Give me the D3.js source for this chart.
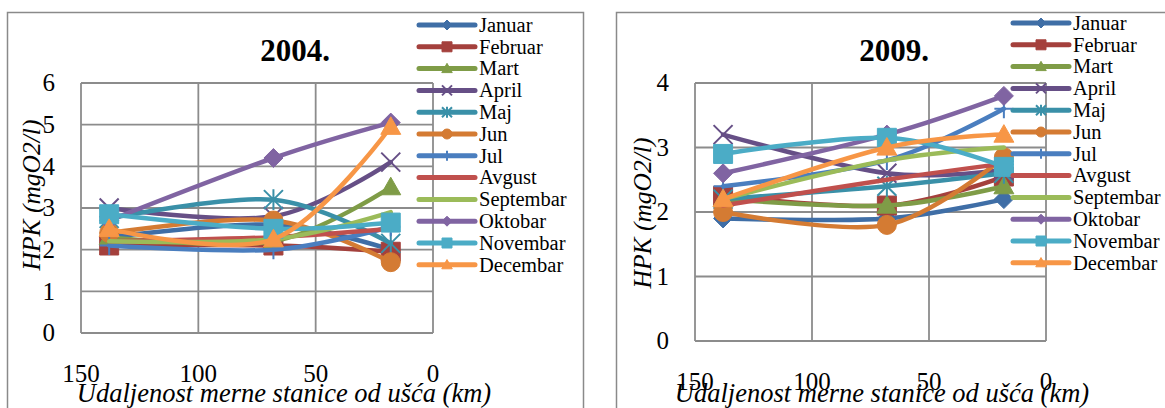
<!DOCTYPE html>
<html>
<head>
<meta charset="utf-8">
<script src="https://cdn.jsdelivr.net/npm/d3@7"></script>
<style>
  body { margin: 0; background: #fff; }
  svg text { font-family: "Liberation Serif", "DejaVu Serif", "Times New Roman", Times, serif; }
</style>
</head>
<body>
<svg id="chart" width="1165" height="408"></svg>
<script>
// mjeseci (serije)
const months = ["Januar", "Februar", "Mart", "April", "Maj", "Jun", "Jul", "Avgust", "Septembar", "Oktobar", "Novembar", "Decembar"];
// udaljenost merne stanice od ušća (km)
const distances = [138, 68, 18];

// HPK (mgO2/l) po mjesecima, 2004.
const hpk2004 = [
    [2.3, 2.6, 2.0],   // Januar
    [2.1, 2.1, 1.95],  // Februar
    [2.3, 2.2, 3.5],   // Mart
    [3.0, 2.8, 4.1],   // April
    [2.75, 3.2, 2.15], // Maj
    [2.4, 2.7, 1.7],   // Jun
    [2.1, 2.0, 2.55],  // Jul
    [2.2, 2.3, 2.5],   // Avgust
    [2.2, 2.25, 2.9],  // Septembar
    [2.7, 4.2, 5.05],  // Oktobar
    [2.85, 2.5, 2.65], // Novembar
    [2.5, 2.25, 4.95]  // Decembar
];

// HPK (mgO2/l) po mjesecima, 2009.
const hpk2009 = [
    [1.9, 1.9, 2.2],   // Januar
    [2.25, 2.1, 2.55], // Februar
    [2.2, 2.1, 2.4],   // Mart
    [3.2, 2.6, 2.65],  // April
    [2.2, 2.4, 2.6],   // Maj
    [2.0, 1.8, 2.85],  // Jun
    [2.4, 2.8, 3.6],   // Jul
    [2.1, 2.5, 2.75],  // Avgust
    [2.2, 2.8, 3.0],   // Septembar
    [2.6, 3.2, 3.8],   // Oktobar
    [2.9, 3.15, 2.7],  // Novembar
    [2.2, 3.0, 3.2]    // Decembar
];

const xTicks = [150, 100, 50, 0];
const yTicks2004 = [0, 1, 2, 3, 4, 5, 6];
const yTicks2009 = [0, 1, 2, 3, 4];

const colors = ["#3f6ea6", "#a4403c", "#7f9c47", "#664f86", "#3a90a8", "#d47b33",
                "#4a7ebf", "#c0504d", "#9bbb59", "#8064a2", "#4bacc6", "#f79646"];
const markers = ["diamond", "square", "triangle", "x", "star", "circle",
                 "plus", "none", "none", "diamond", "square", "triangle"];

const FONT = "'Liberation Serif', 'DejaVu Serif', 'Times New Roman', serif";
const svg = d3.select("#chart");

function markerPath(type, s) {
    if (type === "diamond") return `M0,${-s}L${s},0L0,${s}L${-s},0Z`;
    if (type === "square") return `M${-s},${-s}H${s}V${s}H${-s}Z`;
    if (type === "triangle") return `M0,${-s * 1.05}L${s * 1.05},${s * 0.8}L${-s * 1.05},${s * 0.8}Z`;
    if (type === "circle") return d3.symbol(d3.symbolCircle, Math.PI * s * s)();
    if (type === "x") return `M${-s},${-s}L${s},${s}M${s},${-s}L${-s},${s}`;
    if (type === "star") return `M${-s},${-s}L${s},${s}M${s},${-s}L${-s},${s}M0,${-s * 1.1}L0,${s * 1.1}`;
    if (type === "plus") return `M0,${-s}L0,${s}M${-s},0L${s},0`;
    return null;
}
const filled = t => ["diamond", "square", "triangle", "circle"].includes(t);

function drawMarker(g, type, color, x, y, s) {
    const p = markerPath(type, s);
    if (!p) return;
    g.append("path")
        .attr("transform", `translate(${x},${y})`)
        .attr("d", p)
        .attr("fill", filled(type) ? color : "none")
        .attr("stroke", color)
        .attr("stroke-width", filled(type) ? 1 : 2);
}

function drawPanel(cfg) {
    const g = svg.append("g").attr("font-family", FONT);

    // okvir
    g.append("rect")
        .attr("x", cfg.frame[0]).attr("y", 12.5)
        .attr("width", cfg.frame[1]).attr("height", 430)
        .attr("fill", "none").attr("stroke", "#8a8a8a").attr("stroke-width", 1.5);

    const x = d3.scaleLinear().domain([150, 0]).range([cfg.left, cfg.right]);
    const y = d3.scaleLinear().domain([0, d3.max(cfg.yTicks)]).range([cfg.bottom, 83]);

    // mreža
    g.selectAll(".vg").data(xTicks).enter().append("line")
        .attr("x1", d => x(d)).attr("x2", d => x(d))
        .attr("y1", y.range()[0]).attr("y2", y.range()[1])
        .attr("stroke", "#8c8c8c").attr("stroke-width", 1.8);
    g.selectAll(".hg").data(cfg.yTicks).enter().append("line")
        .attr("x1", cfg.left).attr("x2", cfg.right)
        .attr("y1", d => y(d)).attr("y2", d => y(d))
        .attr("stroke", "#8c8c8c").attr("stroke-width", 1.8);

    // oznake osa
    g.selectAll(".yl").data(cfg.yTicks).enter().append("text")
        .attr("x", cfg.left - 26).attr("y", d => y(d)).attr("dy", "0.33em")
        .attr("text-anchor", "end").style("font-size", "25px")
        .text(d => d);
    g.selectAll(".xl").data(xTicks).enter().append("text")
        .attr("x", d => x(d)).attr("y", cfg.bottom + 49)
        .attr("text-anchor", "middle").style("font-size", "25px")
        .text(d => d);

    // linije
    const line = d3.line()
        .x((d, i) => x(distances[i]))
        .y(d => y(d))
        .curve(d3.curveCardinal.tension(0));

    cfg.data.forEach((vals, k) => {
        g.append("path")
            .datum(vals)
            .attr("d", line)
            .attr("fill", "none")
            .attr("stroke", colors[k])
            .attr("stroke-width", 4.5)
            .attr("stroke-linecap", "round");
        vals.forEach((v, i) => drawMarker(g, markers[k], colors[k], x(distances[i]), y(v), 9.5));
    });

    // naslov
    g.append("text")
        .attr("x", cfg.titleX).attr("y", 61)
        .attr("text-anchor", "middle")
        .style("font-size", "31px").style("font-weight", "bold")
        .text(cfg.title);

    // nazivi osa
    g.append("text")
        .attr("x", cfg.xTitleX).attr("y", 402)
        .attr("text-anchor", "middle")
        .style("font-size", "26.5px").style("font-style", "italic")
        .text("Udaljenost merne stanice od ušća (km)");
    g.append("text")
        .attr("transform", `translate(${cfg.yTitleX},${cfg.yTitleY}) rotate(-90)`)
        .attr("text-anchor", "middle")
        .style("font-size", "25.5px").style("font-style", "italic")
        .text("HPK (mgO2/l)");

    // legenda
    months.forEach((m, k) => {
        const ly = cfg.legendY + k * 21.8;
        g.append("line")
            .attr("x1", cfg.legendX).attr("x2", cfg.legendX + 56)
            .attr("y1", ly).attr("y2", ly)
            .attr("stroke", colors[k]).attr("stroke-width", 5)
            .attr("stroke-linecap", "round");
        drawMarker(g, markers[k], colors[k], cfg.legendX + 28, ly, 5);
        g.append("text")
            .attr("x", cfg.legendX + 60).attr("y", ly).attr("dy", "0.33em")
            .style("font-size", "20.5px")
            .text(m);
    });
}

drawPanel({
    title: "2004.", data: hpk2004, yTicks: yTicks2004,
    frame: [7.5, 576], left: 81, right: 433, bottom: 333,
    titleX: 295, xTitleX: 284, yTitleX: 40, yTitleY: 195,
    legendX: 419, legendY: 25
});

drawPanel({
    title: "2009.", data: hpk2009, yTicks: yTicks2009,
    frame: [616.5, 600], left: 695, right: 1046, bottom: 341,
    titleX: 894, xTitleX: 882, yTitleX: 651, yTitleY: 213,
    legendX: 1013, legendY: 23
});
</script>
</body>
</html>
